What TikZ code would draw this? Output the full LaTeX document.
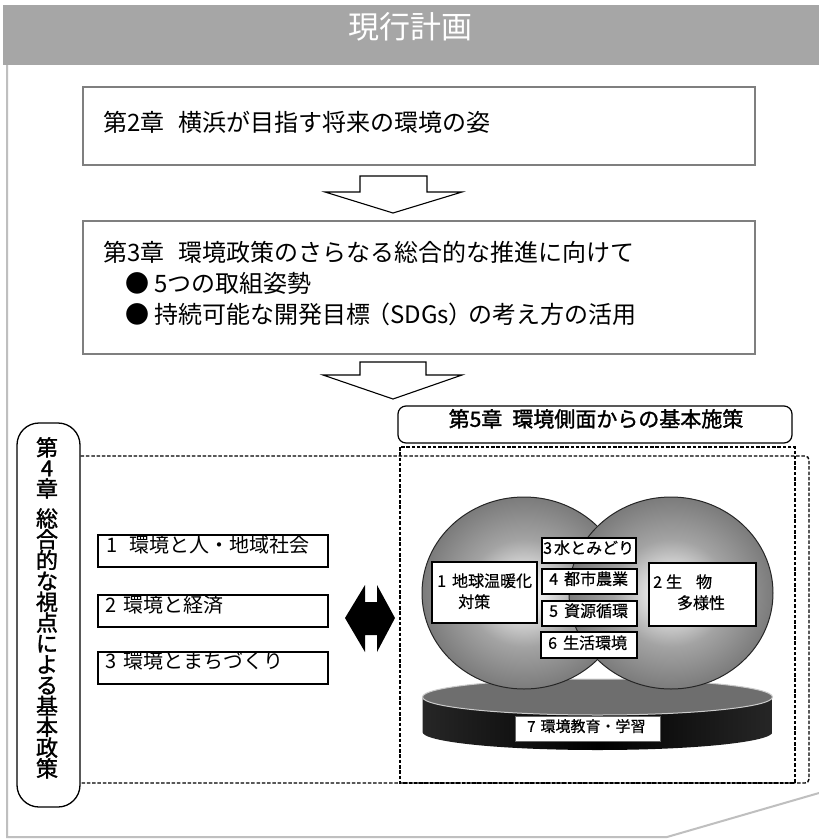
\documentclass[tikz,border=0pt]{standalone}
\usepackage{fontspec}
\setmainfont{Noto Sans CJK JP}
\newfontfamily\heavy{Noto Sans CJK JP}[FakeBold=1.5]
\newfontfamily\semi{Noto Sans CJK JP}[FakeBold=0.6]
\definecolor{band}{HTML}{A6A6A6}
\definecolor{framegray}{HTML}{BFBFBF}
\definecolor{boxedge}{HTML}{7F7F7F}
\definecolor{disctop}{HTML}{6E6E6E}
% light centre fading to a dark rim, for the two policy spheres
\pgfdeclareradialshading{orb}{\pgfpointorigin}{color(0bp)=(white); color(5bp)=(black!10); color(14bp)=(black!36); color(28bp)=(black!56); color(42bp)=(black!70); color(50bp)=(black!80); color(60bp)=(black!80)}

\begin{document}
\begin{tikzpicture}[x=1pt,y=-1pt,
  txt/.style={inner sep=0pt, text height=0.84em, text depth=0.08em},
  big/.style={txt, font=\fontsize{24}{28}\selectfont},
  mid/.style={txt, font=\fontsize{20}{24}\selectfont},
  small/.style={txt, font=\semi\fontsize{16}{19}\selectfont},
  vtxt/.style={txt, font=\heavy\fontsize{22}{22}\selectfont},
  chapbox/.style={draw=boxedge, line width=2.5pt, fill=white, inner sep=0pt},
  itembox/.style={draw=black, line width=1.3pt, inner sep=0pt},
  tagbox/.style={draw=black, line width=1.2pt, fill=white, inner sep=0pt},
  dashframe/.style={draw=black, line width=1.4pt, dash pattern=on 3.5pt off 1.8pt},
  blockarrow/.style={draw=black, line width=1.1pt, fill=white, line join=miter},
]
\useasboundingbox (0,0) rectangle (819,839);
\fill[white] (0,0) rectangle (819,839);

% page frame and title band
\draw[framegray, line width=2pt] (7,65) -- (7,837) -- (667,837) -- (819,793);
\fill[band] (3,5) rectangle (819,65);
\node[txt, text=white, font=\fontsize{31}{36}\selectfont] (title) at (410,35) {現行計画};

% chapter 2 and chapter 3
\node[chapbox, minimum width=672, minimum height=78] (ch2) at (419,126) {};
\node[big, anchor=west] (ch2t) at (103,128) {第2章\hspace{14pt}横浜が目指す将来の環境の姿};

\node[chapbox, minimum width=672, minimum height=133] (ch3) at (419,287.5) {};
\node[big, anchor=west] (ch3a) at (103,258) {第3章\hspace{14pt}環境政策のさらなる総合的な推進に向けて};
\node[big, anchor=west] (ch3b) at (125,289) {●\hspace{5pt}5つの取組姿勢};
\node[big, anchor=west] (ch3c) at (125,320) {●\hspace{5pt}持続可能な開発目標\hspace{-4pt}（SDGs）\hspace{-4pt}の考え方の活用};

% hollow block arrows between the chapters
\draw[blockarrow] (360,176) -- (427,176) -- (427,192) -- (462,192) -- (393,213) -- (325,192) -- (360,192) -- cycle;
\draw[blockarrow] (360,362) -- (426,362) -- (426,375) -- (462,375) -- (393,399) -- (323,375) -- (360,375) -- cycle;

% chapter 4 and chapter 5 frames
\node[draw=black, line width=1.3pt, rounded corners=22, minimum width=63, minimum height=384, inner sep=0pt] (ch4) at (48.5,615) {};
\draw[dashframe, rounded corners=4] (ch4.east |- 0,456) -- (809,456) -- (809,783) -- (ch4.east |- 0,783);
\draw[dashframe] (400,447) rectangle (795,783);
\node[draw=black, line width=1.2pt, rounded corners=8, minimum width=394, minimum height=37, inner sep=0pt] (ch5) at (595,424.5) {};
\node[txt, font=\heavy\fontsize{21}{24}\selectfont] (ch5t) at (596,423) {第5章\hspace{10pt}環境側面からの基本施策};

% vertical title of chapter 4
\foreach \c [count=\i] in {第,4,章}
  \node[vtxt] (va\i) at (47,{452+20.5*(\i-1)}) {\c};
\foreach \c [count=\i] in {総,合,的,な,視,点,に,よ,る,基,本,政,策}
  \node[vtxt] (vb\i) at (47,{523+20.83*(\i-1)}) {\c};

% chapter 4 items
\node[itembox, minimum width=230, minimum height=32] (p1) at (213,551) {};
\node[mid, anchor=west] (p1t) at (106,549) {1\hspace{12pt}環境と人・地域社会};
\node[itembox, minimum width=230, minimum height=32] (p2) at (213,611) {};
\node[mid, anchor=west] (p2t) at (105,609) {2\hspace{7pt}環境と経済};
\node[itembox, minimum width=230, minimum height=32] (p3) at (213,668) {};
\node[mid, anchor=west] (p3t) at (105,665) {3\hspace{7pt}環境とまちづくり};

% two-way arrow
\fill[black] (345,618) -- (365,585) -- (365,602) -- (377,602) -- (377,585) -- (395,618)
  -- (377,652) -- (377,635) -- (365,635) -- (365,652) -- cycle;

% platform disc
\shade[left color=black!85, right color=black!85, middle color=black]
  (422.5,697) -- (422.5,732) arc[start angle=180, end angle=0, x radius=175, y radius=18] -- (772.5,697) -- cycle;
\filldraw[fill=disctop, draw=black!20, line width=1pt] (597.5,697) ellipse[x radius=175, y radius=18];

% spheres
\shade[shading=orb] (524,593) ellipse[x radius=102, y radius=96];
\draw[black!85, line width=1pt] (524,593) ellipse[x radius=102, y radius=96];
\shade[shading=orb] (671,593) ellipse[x radius=102, y radius=96];
\draw[black!85, line width=1pt] (671,593) ellipse[x radius=102, y radius=96];

% labels on the spheres
\node[tagbox, minimum width=105, minimum height=61] (s1) at (484.5,592.5) {};
\node[small, anchor=west] (s1a) at (437,583) {1\hspace{6pt}地球温暖化};
\node[small, anchor=west] (s1b) at (458,604) {対策};
\node[tagbox, minimum width=94, minimum height=25] (s3) at (589,550.5) {};
\node[small, anchor=west] (s3t) at (543,550) {3\hspace{2pt}水とみどり};
\node[tagbox, minimum width=95, minimum height=25] (s4) at (589.5,581.5) {};
\node[small, anchor=west] (s4t) at (549,581) {4\hspace{6pt}都市農業};
\node[tagbox, minimum width=95, minimum height=25] (s5) at (589.5,613.5) {};
\node[small, anchor=west] (s5t) at (549,613) {5\hspace{6pt}資源循環};
\node[tagbox, minimum width=96, minimum height=26] (s6) at (589,645) {};
\node[small, anchor=west] (s6t) at (548,645) {6\hspace{6pt}生活環境};
\node[tagbox, minimum width=107, minimum height=63] (s2) at (702.5,594.5) {};
\node[small, anchor=west] (s2a) at (653,584) {2\hspace{4pt}生\hspace{14pt}物};
\node[small] (s2b) at (701,605) {多様性};
\node[tagbox, draw=black!60, line width=1pt, minimum width=145, minimum height=25] (s7) at (587.5,728.5) {};
\node[small, anchor=west, font=\semi\fontsize{15}{18}\selectfont] (s7t) at (527,728) {7\hspace{5pt}環境教育・学習};
\end{tikzpicture}
\end{document}
